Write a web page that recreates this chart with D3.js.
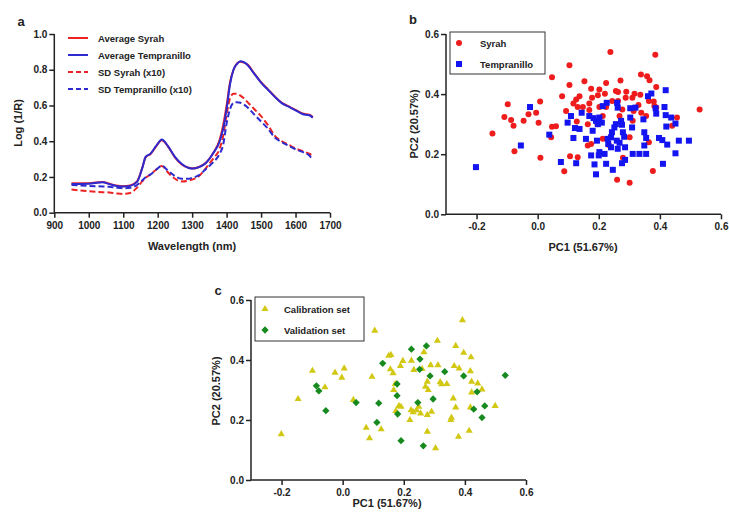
<!DOCTYPE html>
<html><head><meta charset="utf-8">
<script src="https://cdn.jsdelivr.net/npm/d3@7"></script>
<style>
body{margin:0;background:#fff;}
svg{display:block;font-family:"Liberation Sans",Arial,sans-serif;}
.tick text{font-weight:bold;font-size:10px;fill:#222;}
.axis path,.axis line{stroke:#222;stroke-width:1.5px;}
</style></head><body>
<svg id="c" width="729" height="520"></svg>
<script>
// ---------- Panel a data ----------
const wavelengths = [950,1000,1040,1060,1080,1100,1120,1140,1155,1165,1180,1195,1212,1230,1250,1270,1290,1300,1320,1340,1360,1380,1390,1400,1410,1420,1430,1440,1450,1460,1480,1500,1520,1540,1560,1580,1600,1620,1640,1650];
const avgSyrah =       [0.165,0.165,0.172,0.162,0.152,0.148,0.152,0.175,0.25,0.31,0.33,0.37,0.405,0.37,0.31,0.27,0.252,0.248,0.256,0.28,0.33,0.41,0.49,0.60,0.73,0.80,0.835,0.845,0.84,0.83,0.78,0.73,0.69,0.65,0.615,0.595,0.575,0.555,0.548,0.535];
const avgTempranillo = [0.16,0.162,0.170,0.160,0.150,0.146,0.150,0.172,0.248,0.312,0.332,0.372,0.41,0.372,0.312,0.272,0.25,0.247,0.255,0.278,0.33,0.40,0.47,0.58,0.72,0.80,0.832,0.848,0.842,0.828,0.778,0.728,0.688,0.648,0.613,0.593,0.573,0.552,0.545,0.532];
const sdSyrah =        [0.13,0.12,0.115,0.113,0.108,0.105,0.11,0.14,0.175,0.195,0.215,0.24,0.262,0.225,0.19,0.175,0.18,0.185,0.205,0.25,0.30,0.36,0.43,0.55,0.64,0.665,0.665,0.655,0.64,0.62,0.58,0.54,0.49,0.43,0.40,0.38,0.36,0.345,0.33,0.32];
const sdTempranillo =  [0.155,0.15,0.147,0.145,0.14,0.137,0.14,0.155,0.18,0.198,0.215,0.24,0.262,0.235,0.205,0.19,0.19,0.195,0.21,0.245,0.28,0.33,0.38,0.50,0.58,0.615,0.618,0.615,0.605,0.59,0.55,0.51,0.47,0.42,0.395,0.375,0.355,0.34,0.32,0.295];
const aXTicks = [900,1000,1100,1200,1300,1400,1500,1600,1700];
const aYTicks = [0.0,0.2,0.4,0.6,0.8,1.0];
const aSeriesNames = ["Average Syrah","Average Tempranillo","SD Syrah (x10)","SD Tempranillo (x10)"];

// ---------- Panel b data ----------
const syrahPC1 = [0.238,0.385,0.104,0.047,0.338,0.358,0.366,0.271,0.153,0.224,0.104,0.388,0.175,0.202,0.256,0.263,0.290,0.336,0.197,0.137,0.080,0.220,0.317,-0.098,0.008,0.126,0.178,0.364,0.380,0.288,0.310,0.244,0.263,0.169,0.117,0.148,0.131,0.202,0.224,0.277,0.330,0.382,0.388,0.530,0.169,0.314,0.339,0.093,-0.109,-0.087,-0.079,-0.046,-0.030,-0.005,0.003,0.047,0.060,0.128,0.164,0.213,0.268,0.311,0.355,0.456,0.440,-0.148,0.044,0.164,0.175,0.213,0.301,0.364,-0.076,0.009,0.106,0.131,0.279,0.087,0.377,0.260,0.301,0.233,0.196];
const syrahPC2 = [0.540,0.531,0.496,0.456,0.465,0.459,0.446,0.445,0.443,0.437,0.430,0.424,0.418,0.415,0.410,0.407,0.408,0.398,0.396,0.393,0.393,0.401,0.401,0.366,0.375,0.382,0.388,0.377,0.375,0.388,0.388,0.377,0.377,0.369,0.369,0.357,0.357,0.357,0.357,0.349,0.364,0.360,0.355,0.349,0.347,0.344,0.338,0.344,0.324,0.314,0.295,0.311,0.333,0.338,0.305,0.291,0.293,0.309,0.300,0.327,0.327,0.311,0.327,0.322,0.295,0.269,0.256,0.229,0.234,0.251,0.256,0.240,0.210,0.188,0.193,0.190,0.188,0.143,0.144,0.115,0.105,0.231,0.300];
const tempPC1 = [-0.202,-0.055,-0.025,0.038,0.076,0.126,0.109,0.098,0.122,0.137,0.117,0.144,0.158,0.169,0.183,0.191,0.197,0.210,0.202,0.175,0.180,0.186,0.191,0.194,0.202,0.200,0.219,0.224,0.226,0.229,0.231,0.240,0.243,0.240,0.246,0.251,0.256,0.259,0.262,0.268,0.260,0.273,0.276,0.279,0.283,0.286,0.276,0.286,0.303,0.309,0.303,0.311,0.346,0.349,0.355,0.349,0.333,0.355,0.361,0.372,0.386,0.388,0.397,0.408,0.410,0.415,0.419,0.419,0.421,0.424,0.437,0.451,0.451,0.462,0.495,0.262,0.213,0.320];
const tempPC2 = [0.157,0.229,0.357,0.265,0.174,0.170,0.327,0.305,0.287,0.284,0.254,0.338,0.251,0.327,0.320,0.311,0.300,0.305,0.322,0.196,0.278,0.166,0.133,0.245,0.207,0.196,0.201,0.168,0.371,0.251,0.234,0.256,0.273,0.223,0.148,0.289,0.300,0.245,0.218,0.238,0.371,0.311,0.298,0.273,0.258,0.223,0.170,0.181,0.322,0.289,0.353,0.201,0.316,0.273,0.254,0.229,0.201,0.201,0.393,0.402,0.353,0.335,0.254,0.247,0.168,0.357,0.413,0.330,0.292,0.232,0.322,0.302,0.203,0.245,0.245,0.355,0.360,0.355];

// ---------- Panel c data ----------
const calPC1 = [-0.201,-0.146,-0.099,-0.058,-0.025,-0.003,0.005,0.035,0.077,0.088,0.096,0.105,0.126,0.151,0.158,0.156,0.165,0.167,0.172,0.174,0.184,0.191,0.189,0.197,0.220,0.224,0.225,0.233,0.231,0.242,0.249,0.260,0.266,0.271,0.277,0.277,0.280,0.277,0.291,0.288,0.310,0.312,0.319,0.324,0.341,0.304,0.365,0.370,0.381,0.354,0.356,0.362,0.370,0.379,0.392,0.396,0.414,0.418,0.418,0.420,0.422,0.422,0.442,0.456,0.499,0.255];
const calPC2 = [0.153,0.270,0.364,0.309,0.358,0.341,0.372,0.267,0.174,0.139,0.344,0.498,0.169,0.414,0.417,0.369,0.356,0.300,0.320,0.230,0.247,0.244,0.380,0.397,0.200,0.233,0.398,0.367,0.226,0.233,0.244,0.370,0.426,0.311,0.328,0.161,0.300,0.217,0.228,0.383,0.464,0.383,0.326,0.319,0.320,0.106,0.380,0.447,0.372,0.200,0.208,0.272,0.242,0.144,0.533,0.424,0.164,0.242,0.363,0.409,0.328,0.292,0.322,0.302,0.247,0.222];
const valPC1 = [-0.086,-0.078,-0.055,0.044,0.118,0.112,0.131,0.178,0.178,0.180,0.191,0.225,0.253,0.252,0.274,0.286,0.296,0.246,0.264,0.334,0.396,0.440,0.429,0.465,0.456,0.532];
const valPC2 = [0.314,0.297,0.231,0.258,0.256,0.192,0.389,0.320,0.281,0.220,0.131,0.436,0.403,0.369,0.447,0.347,0.270,0.258,0.114,0.361,0.347,0.294,0.236,0.247,0.208,0.349];
const pcTicksX = [-0.2,0.0,0.2,0.4,0.6];
const pcTicksY = [0.0,0.2,0.4,0.6];

const svg = d3.select("#c");
const RED="#ec2224", BLUE="#2d2ad0", RED_PT="#ee1c1c", BLUE_PT="#1414f0", YEL="#d2c814", GRN="#168a1e";
const f1 = d => d3.format(".1f")(d).replace("\u2212","-");

function axes(g, x, y, xt, yt, fmtX, fmtY){
  const xa = g.append("g").attr("class","axis").attr("transform",`translate(0,${y.range()[0]})`)
    .call(d3.axisBottom(x).tickValues(xt).tickFormat(fmtX).tickSize(5).tickPadding(4).tickSizeOuter(0));
  xa.select(".domain").attr("d",`M${x.range()[0]},0H${x.range()[1]}`);
  const ya = g.append("g").attr("class","axis").attr("transform",`translate(${x.range()[0]},0)`)
    .call(d3.axisLeft(y).tickValues(yt).tickFormat(fmtY).tickSize(5).tickPadding(2).tickSizeOuter(0));
  ya.select(".domain").attr("d",`M0,${y.range()[0]}V${y.range()[1]}`);
}
function label(txt,x,y,rot,size){
  const t = svg.append("text").attr("text-anchor","middle").attr("font-weight","bold")
    .attr("font-size",size||11).attr("fill","#222").text(txt);
  if(rot) t.attr("transform",`translate(${x},${y}) rotate(-90)`); else t.attr("x",x).attr("y",y);
}

// ---------- Panel a ----------
const xa = d3.scaleLinear().domain([900,1700]).range([54.3,330]);
const ya = d3.scaleLinear().domain([0,1]).range([212.7,34]);
const ga = svg.append("g");
axes(ga, xa, ya, aXTicks, aYTicks, d3.format(""), f1);
const seriesA = [
  {name:aSeriesNames[0], v:avgSyrah, c:RED, dash:null},
  {name:aSeriesNames[1], v:avgTempranillo, c:BLUE, dash:null},
  {name:aSeriesNames[2], v:sdSyrah, c:RED, dash:"6,3"},
  {name:aSeriesNames[3], v:sdTempranillo, c:BLUE, dash:"6,3"}
];
const line = d3.line().curve(d3.curveMonotoneX);
[seriesA[2],seriesA[3],seriesA[0],seriesA[1]].forEach(s=>{
  ga.append("path").attr("fill","none").attr("stroke",s.c).attr("stroke-width",2)
    .attr("stroke-dasharray",s.dash)
    .attr("d", line(wavelengths.map((w,i)=>[xa(w),ya(s.v[i])])));
});
seriesA.forEach((s,i)=>{
  const yy = 38 + i*17;
  ga.append("line").attr("x1",68).attr("x2",88).attr("y1",yy).attr("y2",yy)
    .attr("stroke",s.c).attr("stroke-width",2).attr("stroke-dasharray",s.dash?"5,3":null);
  ga.append("text").attr("x",98).attr("y",yy+3.5).attr("font-size",9.5).attr("font-weight","bold")
    .attr("fill","#222").text(s.name);
});
label("a",21,26,false,13);
label("Wavelength (nm)",192,250);
label("Log (1/R)",22,123,true);

// ---------- Panel b ----------
const xb = d3.scaleLinear().domain([-0.3,0.6]).range([446,721]);
const yb = d3.scaleLinear().domain([0,0.6]).range([214.3,34]);
const gb = svg.append("g");
axes(gb, xb, yb, pcTicksX, pcTicksY, f1, f1);
gb.append("g").selectAll("circle").data(syrahPC1).join("circle")
  .attr("cx",(d)=>xb(d)).attr("cy",(d,i)=>yb(syrahPC2[i])).attr("r",3).attr("fill",RED_PT);
gb.append("g").selectAll("rect").data(tempPC1).join("rect")
  .attr("x",(d)=>xb(d)-3).attr("y",(d,i)=>yb(tempPC2[i])-3).attr("width",6).attr("height",6).attr("fill",BLUE_PT);
gb.append("rect").attr("x",450).attr("y",32).attr("width",95).attr("height",42)
  .attr("fill","#fff").attr("stroke","#333").attr("stroke-width",1);
gb.append("circle").attr("cx",459).attr("cy",43).attr("r",3).attr("fill",RED_PT);
gb.append("rect").attr("x",456).attr("y",61).attr("width",6).attr("height",6).attr("fill",BLUE_PT);
gb.append("text").attr("x",480).attr("y",46.5).attr("font-size",9.5).attr("font-weight","bold").attr("fill","#222").text("Syrah");
gb.append("text").attr("x",480).attr("y",67.5).attr("font-size",9.5).attr("font-weight","bold").attr("fill","#222").text("Tempranillo");
label("b",413,24,false,13);
label("PC1 (51.67%)",583,251);
label("PC2 (20.57%)",418,124,true);

// ---------- Panel c ----------
const xc = d3.scaleLinear().domain([-0.3,0.6]).range([251,526]);
const yc = d3.scaleLinear().domain([0,0.6]).range([480,300]);
const gc = svg.append("g");
axes(gc, xc, yc, pcTicksX, pcTicksY, f1, f1);
const tri = d3.symbol().type(d3.symbolTriangle).size(22);
const dia = d3.symbol().type(d3.symbolDiamond2).size(34);
gc.append("g").selectAll("path").data(calPC1).join("path")
  .attr("d",tri).attr("transform",(d,i)=>`translate(${xc(d)},${yc(calPC2[i])})`).attr("fill",YEL);
gc.append("g").selectAll("path").data(valPC1).join("path")
  .attr("d",dia).attr("transform",(d,i)=>`translate(${xc(d)},${yc(valPC2[i])})`).attr("fill",GRN);
gc.append("rect").attr("x",255).attr("y",297).attr("width",109).attr("height",44)
  .attr("fill","#fff").attr("stroke","#333").attr("stroke-width",1);
gc.append("path").attr("d",tri).attr("transform","translate(265,309)").attr("fill",YEL);
gc.append("path").attr("d",dia).attr("transform","translate(265,330)").attr("fill",GRN);
gc.append("text").attr("x",284).attr("y",312.5).attr("font-size",9.5).attr("font-weight","bold").attr("fill","#222").text("Calibration set");
gc.append("text").attr("x",284).attr("y",333.5).attr("font-size",9.5).attr("font-weight","bold").attr("fill","#222").text("Validation set");
label("c",218,295,false,13);
label("PC1 (51.67%)",387,507);
label("PC2 (20.57%)",220,391,true);
</script></body></html>
